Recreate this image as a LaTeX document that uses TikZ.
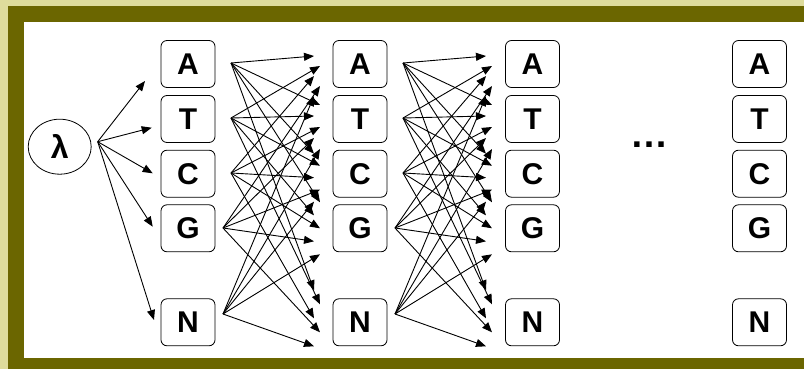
\documentclass[tikz,border=0pt]{standalone}
\usepackage{fontspec}
\setmainfont{Liberation Sans}
\usetikzlibrary{arrows.meta,calc,shapes.geometric}
\definecolor{khakibg}{RGB}{222,220,156}
\definecolor{olivefr}{RGB}{107,102,0}
\begin{document}
\begin{tikzpicture}[x=1pt,y=-1pt,
  basebox/.style={draw=black,line width=0.8pt,rounded corners=6pt,fill=white,
    minimum width=54pt,minimum height=47pt,inner sep=0pt,
    font=\fontsize{30}{30}\selectfont\bfseries},
  conn/.style={line width=0.9pt,-{Triangle[length=10pt,width=8pt]}}]
\useasboundingbox (0,0) rectangle (804,369);
\fill[khakibg] (0,0) rectangle (804,369);
\fill[olivefr] (8,6) rectangle (804,369);
\fill[white] (24,22) rectangle (804,358);

\foreach \col/\cx in {1/188,2/360,3/532.5,4/759.5} {
  \foreach \r/\L/\cy in {0/A/64,1/T/119,2/C/173.7,3/G/228.3,4/N/322.3}
    \node[basebox] (b\col\r) at (\cx,\cy) {\L};
}

\node[draw,ellipse,line width=0.8pt,minimum width=63pt,minimum height=55pt,inner sep=0pt,
  font=\fontsize{32}{32}\selectfont\bfseries] (lam) at (59.7,146.7) {λ};
\node[font=\fontsize{38}{38}\selectfont\bfseries,anchor=base,inner sep=0pt] (dots) at (649,147) {…};

% arrows from lambda
\coordinate (lamout) at (97.7,141.7);
\foreach \t/\x/\y in {0/145/81,1/151.7/127.7,2/152.7/173.3,3/152.7/226.7,4/154/320} {
  \coordinate (l\t) at (\x,\y);
  \draw[conn] (lamout) -- (l\t);
}

% fans between columns
\foreach \k in {0,1} {
  \foreach \s/\sx/\sy in {0/231/63,1/231/118,2/231/173,3/223/228,4/223/314}
    \coordinate (s\k\s) at ({\sx+172*\k},\sy);
}
\foreach \k in {0,1} {
  \foreach \t/\ty in {0/64,1/119,2/173.7,3/228.3,4/322.3} {
    \foreach \s in {0,...,4} {
      \pgfmathsetmacro\ey{\ty-8-6*\t+(10+\t)*\s}
      \pgfmathsetmacro\ex{314+6*mod(\s+\t,2)+172*\k}
      \coordinate (e\k\t\s) at (\ex,\ey);
      \draw[conn] (s\k\s) -- (e\k\t\s);
    }
  }
}
\end{tikzpicture}
\end{document}
